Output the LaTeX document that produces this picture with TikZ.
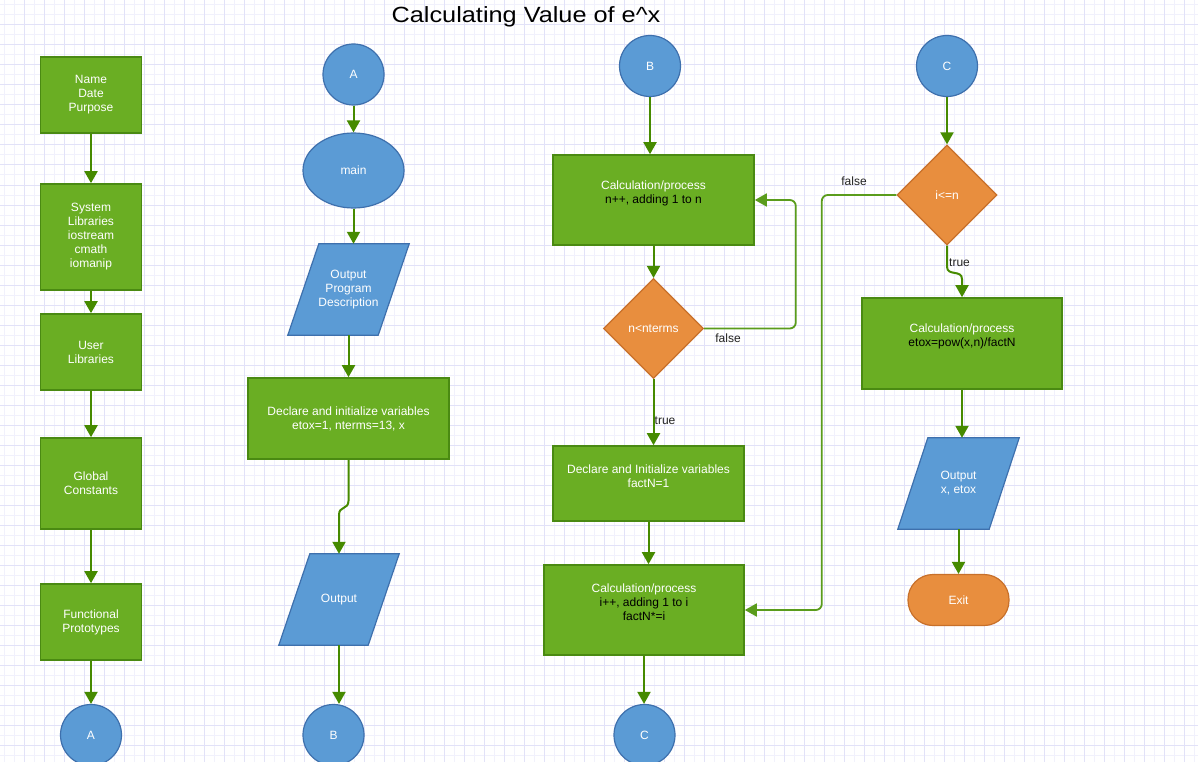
\documentclass[tikz,border=0pt]{standalone}
\usepackage{fontspec}
\setmainfont{Liberation Sans}
\usetikzlibrary{shapes.geometric,arrows.meta,calc,backgrounds}
\definecolor{gfill}{HTML}{6AAE23}
\definecolor{gline}{HTML}{4A8A12}
\definecolor{bfill}{HTML}{5B9BD5}
\definecolor{bline}{HTML}{3E70AD}
\definecolor{ofill}{HTML}{E88E3E}
\definecolor{oline}{HTML}{C8702A}
\definecolor{arr}{HTML}{468A00}
\definecolor{loopc}{HTML}{5A9C1C}
\definecolor{gridminor}{HTML}{F1F1FC}
\definecolor{gridmajor}{HTML}{E2E2F8}
\definecolor{lblc}{HTML}{222222}
\begin{document}
\begin{tikzpicture}[x=1pt,y=-1pt,
 font=\fontsize{12}{14}\selectfont,
 proc/.style={rectangle, fill=gfill, draw=gline, line width=1.6pt, text=white, align=center, inner sep=0pt},
 txt/.style={text=white, align=center, inner sep=0pt},
 term/.style={circle, fill=bfill, draw=bline, line width=1.2pt, text=white, minimum size=61pt, inner sep=0pt},
 oval/.style={ellipse, fill=bfill, draw=bline, line width=1.2pt, text=white, inner sep=0pt},
 dec/.style={diamond, fill=ofill, draw=oline, line width=1.2pt, text=white, minimum width=100pt, minimum height=100pt, inner sep=0pt},
 io/.style={rectangle, draw=none, text=white, align=center, inner sep=0pt},
 paral/.style={fill=bfill, draw=bline, line width=1.2pt},
 stop/.style={rectangle, rounded corners=25pt, fill=ofill, draw=oline, line width=1.2pt, text=white, inner sep=0pt},
 flow/.style={draw=arr, line width=2pt, -{Triangle[width=13pt,length=12pt]}},
 back/.style={draw=loopc, line width=1.8pt, rounded corners=6pt, -{Triangle[width=13pt,length=12pt]}},
 lbl/.style={text=lblc, inner sep=0pt},
]
\useasboundingbox (0,0) rectangle (1198,762);

\node[lbl, font=\fontsize{22}{26}\selectfont, text=black] (title) at (526,17) {\scalebox{1.15}[1]{Calculating Value of e\textasciicircum x}};

% column 1
\node[proc, minimum width=101pt, minimum height=76pt] (n1) at (91,95) {Name\\Date\\Purpose};
\node[proc, minimum width=101pt, minimum height=106pt] (n2) at (91,237) {System\\Libraries\\iostream\\cmath\\iomanip};
\node[proc, minimum width=101pt, minimum height=76pt] (n3) at (91,352) {User\\Libraries};
\node[proc, minimum width=101pt, minimum height=91pt] (n4) at (91,483.5) {Global\\Constants};
\node[proc, minimum width=101pt, minimum height=76pt] (n5) at (91,622) {Functional\\Prototypes};
\node[term] (a1) at (91,735) {A};

% column 2
\node[term] (a2) at (353.5,74.5) {A};
\node[oval, minimum width=101pt, minimum height=75pt] (mainn) at (353.5,170.5) {main};
\node[io, minimum width=121pt, minimum height=91pt] (opd) at (348.5,289.5) {Output\\Program\\Description};
\node[proc, minimum width=201pt, minimum height=81pt] (decl) at (348.5,418.5) {Declare and initialize variables\\etox=1, nterms=13, x};
\node[io, minimum width=120pt, minimum height=91pt] (outn) at (339,599.5) {Output};
\node[term] (b1) at (333.5,735) {B};

% column 3
\node[term] (b2) at (650,66) {B};
\node[proc, minimum width=201pt, minimum height=90pt] (calc1) at (653.5,200) {};
\node[txt] (calc1t) at ($(calc1)+(0,-7)$) {Calculation/process\\\textcolor{black}{n++, adding 1 to n}};
\node[dec] (d1) at (653.5,328.5) {n<nterms};
\node[proc, minimum width=191pt, minimum height=75pt] (decl2) at (648.5,483.5) {};
\node[txt] (decl2t) at ($(decl2)+(0,-7)$) {Declare and Initialize variables\\factN=1};
\node[proc, minimum width=200pt, minimum height=90pt] (calc2) at (644,610) {};
\node[txt] (calc2t) at ($(calc2)+(0,-7.5)$) {Calculation/process\\\textcolor{black}{i++, adding 1 to i}\\\textcolor{black}{factN*=i}};
\node[term] (c1) at (644.5,735) {C};

% column 4
\node[term] (c2) at (947,66) {C};
\node[dec] (d2) at (947,195) {i<=n};
\node[proc, minimum width=200pt, minimum height=91pt] (calc3) at (962,343.5) {};
\node[txt] (calc3t) at ($(calc3)+(0,-7)$) {Calculation/process\\\textcolor{black}{etox=pow(x,n)/factN}};
\node[io, minimum width=121pt, minimum height=91pt] (oxe) at (958.5,483.5) {Output\\x, etox};
\node[stop, minimum width=101pt, minimum height=51pt] (exitn) at (958.5,600) {Exit};

% grid and parallelograms behind everything
\begin{scope}[on background layer]
\fill[white] (0,0) rectangle (1198,762);
\foreach \x in {4,14,...,1194} \draw[gridminor, line width=1pt] (\x,0) -- (\x,762);
\foreach \y in {5,15,...,755} \draw[gridminor, line width=1pt] (0,\y) -- (1198,\y);
\foreach \x in {24,44,...,1184} \draw[gridmajor, line width=1pt] (\x,0) -- (\x,762);
\foreach \y in {25,45,...,745} \draw[gridmajor, line width=1pt] (0,\y) -- (1198,\y);
\draw[paral] (opd.south west) -- ($(opd.north west)+(31,0)$) -- (opd.north east) -- ($(opd.south east)+(-31,0)$) -- cycle;
\draw[paral] (outn.south west) -- ($(outn.north west)+(31,0)$) -- (outn.north east) -- ($(outn.south east)+(-31,0)$) -- cycle;
\draw[paral] (oxe.south west) -- ($(oxe.north west)+(30,0)$) -- (oxe.north east) -- ($(oxe.south east)+(-30,0)$) -- cycle;
\end{scope}

% connectors column 1
\draw[flow] (n1) -- (n2);
\draw[flow] (n2) -- (n3);
\draw[flow] (n3) -- (n4);
\draw[flow] (n4) -- (n5);
\draw[flow] (n5) -- (a1);
% column 2
\draw[flow] (a2) -- (mainn);
\draw[flow] (mainn.south) -- (mainn.south |- opd.north);
\draw[flow] (opd.south) -- (decl.north);
\draw[flow] (decl.south) -- ($(decl.south)+(0,41)$) .. controls ($(decl.south)+(0,50)$) and ($(outn.north)+(0,-48)$) .. ($(outn.north)+(0,-39)$) -- (outn.north);
\draw[flow] (outn.south) -- (outn.south |- b1.north);
% column 3
\draw[flow] (b2) -- (b2 |- calc1.north);
\draw[flow] (calc1) -- (d1);
\draw[flow] (d1.south) -- (d1.south |- decl2.north);
\node[lbl] (t1) at (665,421) {true};
\draw[back] (d1.east) -- ($(d1.east -| calc1.east)+(41,0)$) -- ($(calc1.east)+(41,0)$) -- (calc1.east);
\node[lbl] (f1) at (728,338) {false};
\draw[flow] (decl2.south) -- (decl2.south |- calc2.north);
\draw[flow] (calc2.south) -- (calc2.south |- c1.north);
% column 4
\draw[flow] (c2) -- (d2);
\draw[back] (d2.west) -- ($(d2.west -| calc2.east)+(77,0)$) -- ($(calc2.east)+(77,0)$) -- (calc2.east);
\node[lbl] (f2) at (854,181) {false};
\draw[flow] (d2.south) -- ($(d2.south)+(0,21)$) .. controls ($(d2.south)+(0,31)$) and ($(calc3.north)+(0,-28)$) .. ($(calc3.north)+(0,-18)$) -- (calc3.north);
\node[lbl, anchor=west] (t2) at (949,263) {true};
\draw[flow] (calc3.south) -- (calc3.south |- oxe.north);
\draw[flow] (oxe.south) -- (exitn.north);
\end{tikzpicture}
\end{document}
